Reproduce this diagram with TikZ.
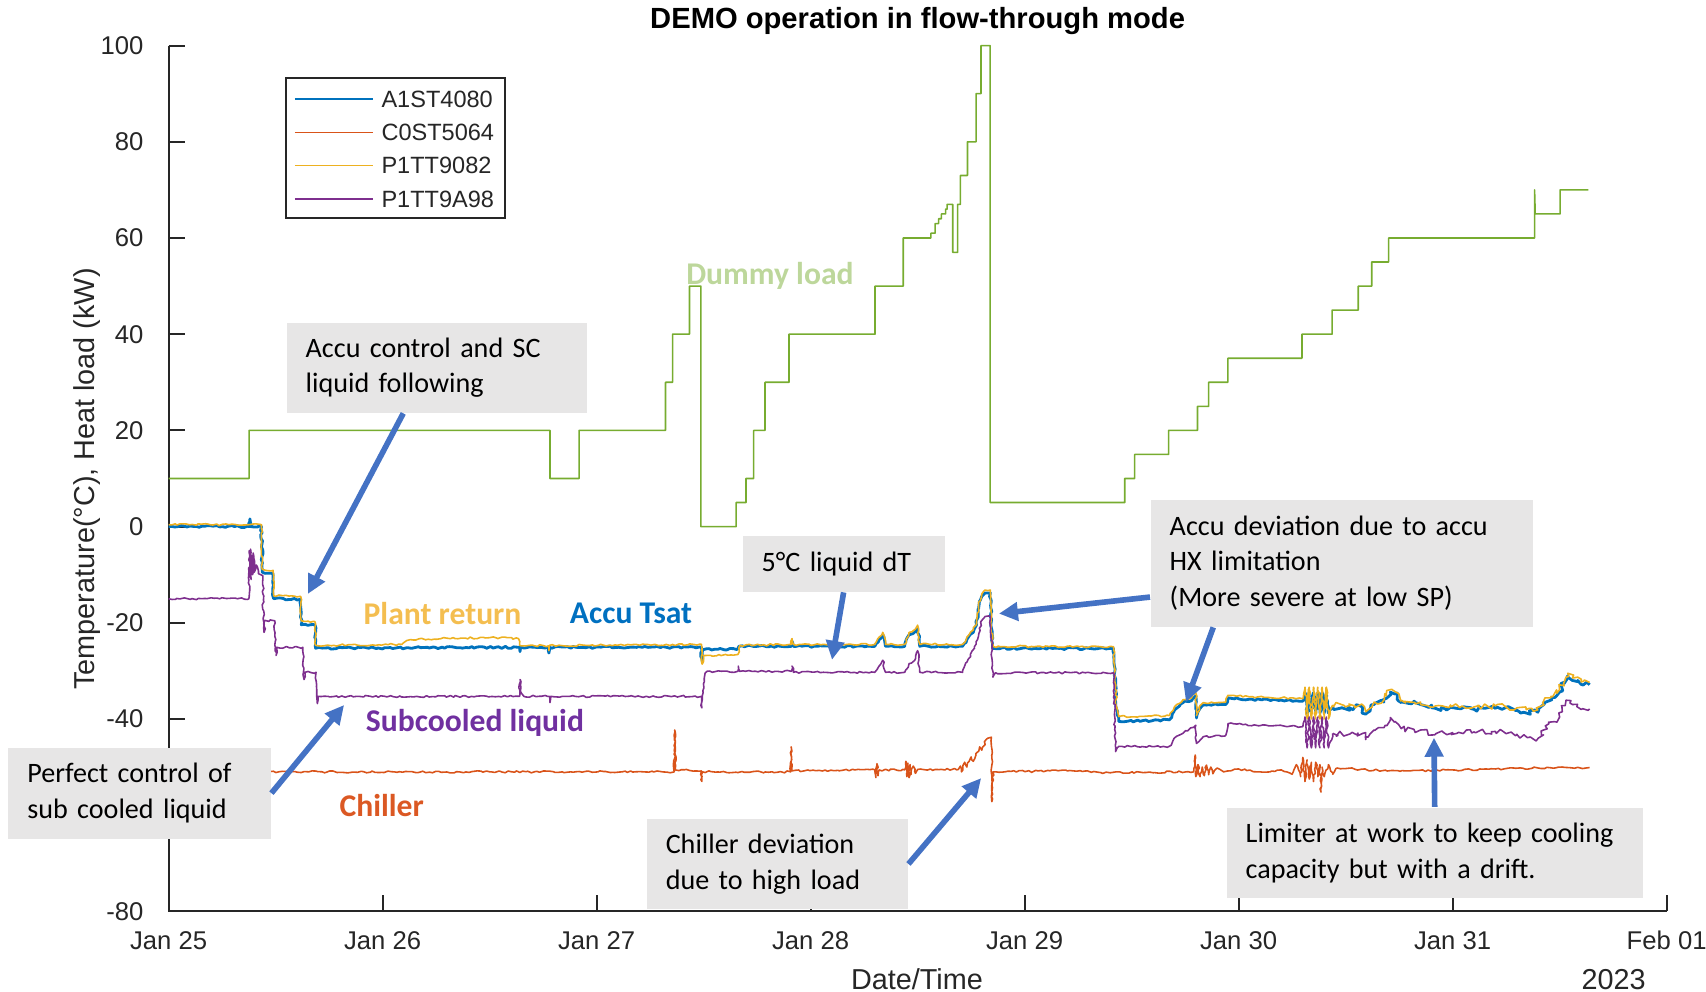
\documentclass[tikz,border=0pt]{standalone}
\usepackage{fontspec}
\setmainfont{Liberation Sans}
\newfontfamily\calibri{Carlito}
\usetikzlibrary{arrows.meta,positioning,calc,decorations.pathmorphing}
\definecolor{mblue}{RGB}{0,114,189}
\definecolor{mred}{RGB}{217,83,25}
\definecolor{myellow}{RGB}{237,177,32}
\definecolor{mpurple}{RGB}{126,47,142}
\definecolor{mgreen}{RGB}{119,172,48}
\definecolor{axgray}{RGB}{38,38,38}
\definecolor{notegray}{RGB}{231,230,230}
\definecolor{callblue}{RGB}{68,114,196}
\definecolor{lblgreen}{RGB}{189,215,155}
\definecolor{lblyellow}{RGB}{244,190,80}
\definecolor{lblblue}{RGB}{0,112,192}
\definecolor{lblpurple}{RGB}{112,48,160}
\definecolor{lblred}{RGB}{219,88,35}
\pgfmathsetseed{7}

\tikzset{
  note/.style={fill=notegray, anchor=north west, align=left, inner xsep=1.9mm,
    inner ysep=0pt, font=\calibri\fontsize{8}{10.2}\selectfont,
    execute at begin node={\hyphenpenalty=10000\relax}},
  callout/.style={callblue, line width=1.6pt,
    -{Triangle[length=1.9mm, width=1.8mm]}},
  tag/.style={font=\calibri\bfseries\fontsize{9}{11}\selectfont},
  ticklbl/.style={font=\fontsize{7.3}{8.5}\selectfont, text=axgray},
  axlbl/.style={font=\fontsize{8.2}{10}\selectfont, text=axgray},
  trace/.style={line width=0.45pt, line join=round},
  noisy/.style={decorate, decoration={random steps, segment length=0.3mm,
    amplitude=0.1mm}},
  noisier/.style={decorate, decoration={random steps, segment length=0.3mm,
    amplitude=0.3mm}},
}

\begin{document}
\begin{tikzpicture}[x=2.14cm, y=0.0481cm]
\useasboundingbox (-0.7879,-96.76) rectangle (7.1841,109.48);
\node[font=\bfseries\fontsize{8.3}{10}\selectfont] (title) at (3.5,105.2)
  {DEMO operation in flow-through mode};
% axes
\draw[axgray, line width=0.2mm] (0,100) -- (0,-80) -- (7,-80);
\foreach \v in {100,80,...,-80}
  \draw[axgray, line width=0.2mm] (0,\v) -- (0.0748,\v);
\foreach \v in {100,80,60,40,20,0,-20,-40,-80}
  \node[ticklbl, anchor=east] (ytick\v) at (-0.06,\v) {\v};
\foreach \d/\lab in {0/Jan 25,1/Jan 26,2/Jan 27,3/Jan 28,4/Jan 29,5/Jan 30,
  6/Jan 31,7/Feb 01} {
  \draw[axgray, line width=0.2mm] (\d,-80) -- (\d,-76.67);
  \node[ticklbl] (xtick\d) at (\d,-86.1) {\lab};
}
\node[axlbl] (xlab) at (3.497,-94.1) {Date/Time};
\node[axlbl] (year) at (6.752,-94.1) {2023};
\node[axlbl, rotate=90] (ylab) at (-0.381,9.9)
  {Temperature(°C), Heat load (kW)};

% dummy load
\draw[trace, mgreen] plot coordinates {(0,10) (0.376,10) (0.376,20)
  (1.782,20) (1.782,10) (1.918,10) (1.918,20) (2.322,20) (2.322,30)
  (2.355,30) (2.355,40) (2.434,40) (2.434,50) (2.487,50) (2.487,0)
  (2.652,0) (2.652,5) (2.698,5) (2.698,10) (2.734,10) (2.734,20)
  (2.787,20) (2.787,30) (2.899,30) (2.899,40) (3.301,40) (3.301,50)
  (3.433,50) (3.433,60) (3.562,60) (3.562,61) (3.582,61) (3.582,63)
  (3.598,63) (3.598,64) (3.611,64) (3.611,65) (3.631,65) (3.631,66)
  (3.638,66) (3.638,67) (3.664,67) (3.664,57) (3.687,57) (3.687,67)
  (3.700,67) (3.700,73) (3.733,73) (3.733,80) (3.773,80) (3.773,90)
  (3.796,90) (3.796,100) (3.839,100) (3.839,5) (4.468,5) (4.468,10)
  (4.514,10) (4.514,15) (4.673,15) (4.673,20) (4.808,20) (4.808,25)
  (4.860,25) (4.860,30) (4.950,30) (4.950,35) (5.296,35) (5.296,40)
  (5.437,40) (5.437,45) (5.559,45) (5.559,50) (5.622,50) (5.622,55)
  (5.701,55) (5.701,60) (6.383,60) (6.383,70) (6.386,65) (6.502,65)
  (6.502,70) (6.634,70)};

% A1ST4080
\draw[trace, mblue, line width=0.8pt, noisy] plot coordinates {(0,0)
  (0.378,0) (0.38,1.6) (0.383,0) (0.434,0) (0.438,-9.5) (0.488,-9.8)
  (0.491,-15) (0.617,-15.1) (0.62,-20.4) (0.684,-20.5) (0.687,-25.3)
  (1.64,-25.1) (1.642,-26) (1.645,-25.1) (1.775,-25.1) (1.777,-26.3)
  (1.78,-25.1) (2.49,-25.1) (2.492,-28) (2.497,-25.6) (2.66,-25.4)
  (2.665,-24.9) (2.91,-24.9) (2.913,-23.8) (2.92,-24.9) (3.30,-24.9)
  (3.32,-23.5) (3.337,-22.5) (3.35,-24.9) (3.44,-24.9) (3.46,-22.5)
  (3.49,-21.8) (3.50,-21) (3.51,-24.9) (3.71,-24.9) (3.73,-23.5)
  (3.76,-22) (3.775,-20.5) (3.785,-17) (3.80,-14.5) (3.815,-13.8)
  (3.84,-13.8) (3.85,-25.3) (4.416,-25.4) (4.43,-38) (4.44,-40.5)
  (4.676,-40.2) (4.70,-38.2) (4.74,-36.6) (4.78,-36.2) (4.80,-35.2)
  (4.803,-39.8) (4.82,-37.8) (4.835,-37.1) (4.94,-37) (4.95,-35.6)
  (5.05,-35.9) (5.2,-36.1) (5.30,-36.3) (5.31,-34.5) (5.32,-38.8)
  (5.33,-34.5) (5.34,-38.8) (5.35,-34.5) (5.36,-38.8) (5.37,-34.5)
  (5.38,-38.8) (5.39,-34.5) (5.40,-38.8) (5.41,-34.5) (5.42,-38.8)
  (5.44,-37.6)};
\draw[trace, mblue, line width=0.8pt, noisier] plot coordinates {(5.44,-37.6)
  (5.58,-37.6) (5.594,-39) (5.633,-37) (5.68,-36.5) (5.709,-34.4)
  (5.73,-34.8) (5.76,-36.6) (5.85,-37) (5.92,-37.8) (5.99,-37.6)
  (6.1,-38) (6.2,-37.8) (6.3,-38.2) (6.398,-38.6) (6.42,-37.2)
  (6.46,-35.8) (6.50,-34.4) (6.538,-31) (6.56,-32) (6.60,-32.8)
  (6.64,-32.9)};

% C0ST5064
\draw[trace, mred, noisy] plot coordinates {(0,-51) (2.363,-51)
  (2.365,-42.3) (2.368,-50.6) (2.49,-50.8) (2.492,-53) (2.495,-51)
  (2.907,-51) (2.909,-45.8) (2.913,-50.8) (3.30,-50.6) (3.305,-52.2)
  (3.31,-49.3) (3.315,-51.8) (3.32,-50.6) (3.44,-50.6) (3.445,-48.8)
  (3.45,-52) (3.455,-49.2) (3.46,-52.2) (3.465,-49.5) (3.47,-51.5)
  (3.48,-49.8) (3.49,-51.3) (3.50,-50.5) (3.69,-50.5) (3.70,-49.8)
  (3.705,-51) (3.72,-49) (3.73,-50) (3.75,-47.9) (3.76,-48.8)
  (3.79,-45.8) (3.80,-46.5) (3.82,-44.3) (3.845,-43.8) (3.847,-57.2)
  (3.852,-51) (4.20,-50.8) (4.40,-51.2) (4.79,-51) (4.797,-47.5)
  (4.80,-52) (4.81,-49.5) (4.82,-52) (4.83,-50) (4.84,-51.8)
  (4.85,-49.6) (4.86,-51.6) (4.87,-50) (4.88,-51.4) (4.90,-50.2)
  (4.93,-51) (5.0,-50.4) (5.1,-51) (5.2,-50.6) (5.25,-51.5)
  (5.27,-49.5) (5.29,-52) (5.30,-48) (5.31,-53) (5.32,-48.5)
  (5.33,-52.5) (5.34,-49) (5.35,-53) (5.36,-49) (5.37,-52)
  (5.38,-49.5) (5.385,-55.2) (5.39,-50) (5.40,-52) (5.42,-49.5)
  (5.44,-51.5) (5.46,-50.2) (5.6,-50.6) (5.8,-50.8) (6.0,-50.6)
  (6.2,-50.4) (6.4,-50.2) (6.64,-50.1)};

% P1TT9082
\draw[trace, myellow, noisy] plot coordinates {(0,0.4) (0.378,0.4)
  (0.434,0.4) (0.438,-8.9) (0.488,-9.1) (0.491,-14.4) (0.617,-14.5)
  (0.62,-19.6) (0.684,-19.8) (0.687,-24.7) (1.09,-24.5) (1.13,-23.5)
  (1.3,-23.2) (1.5,-23.1) (1.635,-23.3) (1.64,-24.7) (1.775,-24.8)
  (1.777,-25.8) (1.78,-24.7) (2.49,-24.5) (2.493,-28.6) (2.50,-26.8)
  (2.66,-26.6) (2.67,-24.7) (2.91,-24.5) (2.913,-23.3) (2.92,-24.5)
  (3.30,-24.5) (3.32,-23) (3.337,-22) (3.35,-24.5) (3.44,-24.5)
  (3.46,-22) (3.49,-21.3) (3.50,-20.5) (3.51,-24.5) (3.71,-24.5)
  (3.73,-23) (3.76,-21.5) (3.775,-20) (3.785,-16.5) (3.80,-14)
  (3.815,-13.2) (3.84,-13.2) (3.85,-24.9) (4.416,-25) (4.43,-37.5)
  (4.44,-39.5) (4.676,-39.3) (4.70,-37.5) (4.74,-36) (4.78,-35.6)
  (4.80,-34.6) (4.803,-39.3) (4.82,-37.2) (4.835,-36.6) (4.94,-36.5)
  (4.95,-35.1) (5.05,-35.4) (5.2,-35.6) (5.30,-35.8) (5.31,-33.4)
  (5.32,-40) (5.33,-33.4) (5.34,-40) (5.35,-33.4) (5.36,-40)
  (5.37,-33.4) (5.38,-40) (5.39,-33.4) (5.40,-40) (5.41,-33.4)
  (5.42,-40) (5.44,-37.1)};
\draw[trace, myellow, noisier] plot coordinates {(5.44,-37.1) (5.58,-37.1)
  (5.594,-38.5) (5.633,-36.5) (5.68,-36) (5.709,-33.9) (5.73,-34.3)
  (5.76,-36.1) (5.85,-36.5) (5.92,-37.3) (5.99,-37.1) (6.1,-37.5)
  (6.2,-37.3) (6.3,-37.7) (6.398,-38.1) (6.42,-36.7) (6.46,-35.3)
  (6.50,-33.9) (6.538,-30.5) (6.56,-31.5) (6.60,-32.3) (6.64,-32.4)};

% P1TT9A98
\draw[trace, mpurple, noisy] plot coordinates {(0,-15) (0.375,-15)
  (0.377,-5) (0.38,-10.5) (0.383,-4.7) (0.386,-11) (0.389,-6)
  (0.392,-10) (0.395,-5.5) (0.40,-9.5) (0.41,-8) (0.42,-9.8)
  (0.43,-10) (0.44,-10.2) (0.443,-19.5) (0.446,-22) (0.45,-19.5)
  (0.496,-19.6) (0.499,-25.1) (0.502,-26.8) (0.506,-25.1) (0.627,-25.1)
  (0.63,-30.3) (0.633,-31.8) (0.637,-30.3) (0.689,-30.3) (0.692,-35.3)
  (0.695,-36.8) (0.699,-35.3) (1.64,-35.3) (1.642,-31.8) (1.648,-34.6)
  (1.66,-35.3) (1.78,-35.3) (1.782,-36.6) (1.786,-35.3) (2.49,-35.3)
  (2.492,-37.7) (2.505,-31) (2.515,-30.1) (2.66,-30.1) (2.662,-29)
  (2.668,-30.1) (2.91,-30.1) (2.913,-29) (2.92,-30.3) (3.30,-30.3)
  (3.32,-29) (3.337,-27.8) (3.35,-30.3) (3.44,-30.3) (3.46,-28.5)
  (3.49,-27.5) (3.50,-25.8) (3.51,-30.3) (3.71,-30.3) (3.73,-28.2)
  (3.765,-25) (3.78,-23.5) (3.80,-19.5) (3.815,-18.7) (3.84,-18.7)
  (3.852,-31.3) (3.865,-30.4) (4.416,-30.4) (4.425,-46.8) (4.44,-45.7)
  (4.676,-45.7) (4.71,-43.6) (4.74,-43) (4.80,-41.3) (4.803,-45.1)
  (4.835,-43.7) (4.94,-43.4) (4.95,-41) (5.1,-41.4) (5.30,-41.6)
  (5.31,-39.6) (5.32,-46) (5.33,-39.6) (5.34,-46) (5.35,-39.6)
  (5.36,-46) (5.37,-39.6) (5.38,-46) (5.39,-39.6) (5.40,-46)
  (5.41,-39.6) (5.42,-46) (5.44,-43)};
\draw[trace, mpurple, noisier] plot coordinates {(5.44,-43) (5.58,-43)
  (5.594,-44.3) (5.633,-42.3) (5.68,-41.8) (5.709,-39.7) (5.73,-40.5)
  (5.76,-42) (5.85,-42.3) (5.92,-43.2) (5.95,-42.5) (6.02,-43)
  (6.1,-42.7) (6.2,-42.6) (6.3,-43.2) (6.36,-43.8) (6.40,-44)
  (6.45,-41) (6.50,-39.6) (6.53,-36.1) (6.56,-37) (6.60,-38)
  (6.64,-37.9)};

% legend
\draw[fill=white, draw=axgray, line width=0.15mm] (0.5486,93.27)
  rectangle (1.572,64.16);
\foreach \c/\n/\y in {mblue/A1ST4080/88.9, mred/C0ST5064/81.9,
  myellow/P1TT9082/75.1, mpurple/P1TT9A98/68.1} {
  \draw[\c, line width=0.45pt] (0.590,\y) -- (0.956,\y);
  \node[anchor=west, inner sep=0pt, font=\fontsize{6.7}{8}\selectfont,
    text=axgray] (leg\n) at (0.9916,\y) {\n};
}

% series tags
\node[tag, text=lblgreen] (dummytag) at (2.810,52.1) {Dummy load};
\node[tag, text=lblyellow] (plantag) at (1.280,-18.1) {Plant return};
\node[tag, text=lblblue] (accutag) at (2.161,-18.1) {Accu Tsat};
\node[tag, text=lblpurple] (subtag) at (1.431,-40.9) {Subcooled liquid};
\node[tag, text=lblred] (chiltag) at (0.996,-57.9) {Chiller};

% notes
\node[note, text width=26.2mm, minimum height=9mm] (accubox)
  at (0.5486,42.54) {Accu control and SC\\liquid following};
\node[note, text width=16.4mm, minimum height=5.6mm] (dtbox)
  at (2.679,-1.75) {5°C liquid dT};
\node[note, text width=34.4mm, minimum height=12.7mm] (devbox)
  at (4.586,5.74) {Accu deviation due to accu\\HX limitation\\(More severe at low SP)};
\node[note, text width=22.44mm, minimum height=9.1mm] (subbox)
  at (-0.7523,-45.82) {Perfect control of\\sub cooled liquid};
\node[note, text width=22.3mm, minimum height=9.05mm] (chilbox)
  at (2.231,-60.6) {Chiller deviation\\due to high load};
\node[note, text width=37.8mm, minimum height=9.06mm] (limbox)
  at (4.941,-58.3) {Limiter at work to keep cooling\\capacity but with a drift.};

% callouts
\coordinate (accutip) at (0.651,-14.0);
\coordinate (subtip) at (0.820,-37.1);
\coordinate (dttip) at (3.100,-27.7);
\coordinate (peaktip) at (3.880,-18.1);
\coordinate (devtip) at (4.754,-36.5);
\coordinate (chiltip) at (3.797,-52.3);
\coordinate (limtip) at (5.913,-43.9);
\draw[callout] ($(accubox.south west)!0.389!(accubox.south east)$) -- (accutip);
\draw[callout] (subbox.east) -- (subtip);
\draw[callout] (dtbox.south) -- (dttip);
\draw[callout] ($(devbox.south west)!0.236!(devbox.north west)$) -- (peaktip);
\draw[callout] ($(devbox.south west)!0.165!(devbox.south east)$) -- (devtip);
\draw[callout] (chilbox.east) -- (chiltip);
\draw[callout] (limbox.north) -- (limtip);
\end{tikzpicture}
\end{document}
